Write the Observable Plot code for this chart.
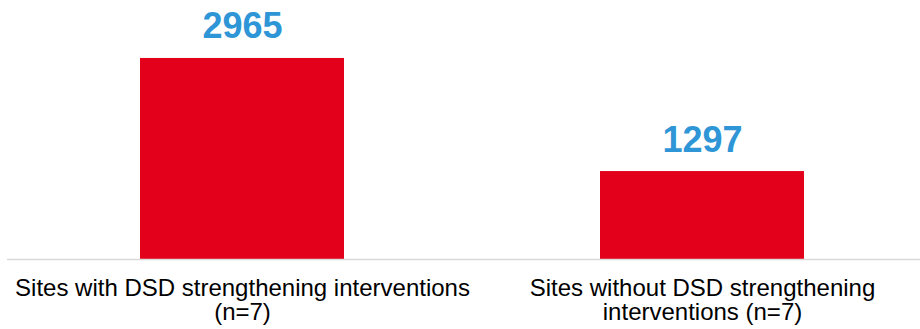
<!DOCTYPE html>
<html>
<head>
<meta charset="utf-8">
<script src="https://cdn.jsdelivr.net/npm/d3@7"></script>
<script src="https://cdn.jsdelivr.net/npm/@observablehq/plot@0.6"></script>
<style>
  html, body { margin: 0; padding: 0; background: #fff; }
  #chart svg { display: block; }
</style>
</head>
<body>
<div id="chart"></div>
<script>
const categories = [
  "Sites with DSD strengthening interventions\n(n=7)",
  "Sites without DSD strengthening\ninterventions (n=7)"
];
const values = [2965, 1297];

const data = categories.map((c, i) => ({category: c, value: values[i]}));

const chart = Plot.plot({
  width: 920,
  height: 329,
  marginTop: 0,
  marginBottom: 70,
  marginLeft: 7,
  marginRight: 0,
  style: {fontFamily: "'Liberation Sans', Arial, sans-serif", color: "#000", background: "#fff"},
  x: {domain: categories, range: [12, 932], paddingInner: 0.557, paddingOuter: 0.2785, label: null},
  y: {domain: [0, 3820], axis: null},
  marks: [
    Plot.barY(data, {x: "category", y: "value", fill: "#E2001A"}),
    Plot.ruleY([0], {stroke: "#d9d9d9", strokeWidth: 1.5}),
    Plot.text(data, {x: "category", y: "value", text: d => String(d.value), lineAnchor: "bottom", dy: -20,
      fill: "#2E96D6", fontSize: 36, fontWeight: "bold"}),
    Plot.axisX({tickSize: 0, tickPadding: 19, fontSize: 24, lineHeight: 1.02, label: null, lineAnchor: "top"})
  ]
});
document.getElementById("chart").appendChild(chart);
</script>
</body>
</html>
